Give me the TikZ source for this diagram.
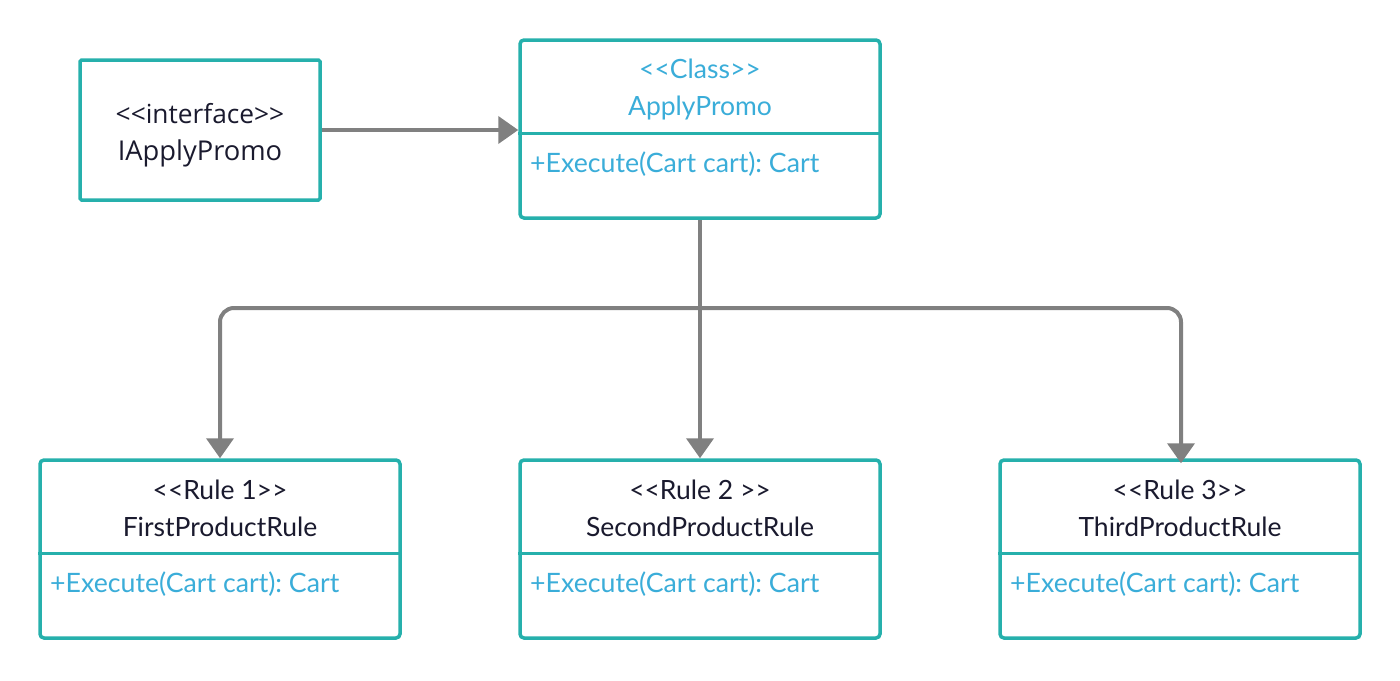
\documentclass[tikz,border=0pt]{standalone}
\usepackage{fontspec}
\newfontfamily\lato{Lato}
\newfontfamily\ifont{Open Sans}
\usetikzlibrary{arrows.meta}
\definecolor{boxteal}{HTML}{26B0AC}
\definecolor{txtblue}{HTML}{3AADD9}
\definecolor{txtdark}{HTML}{1A1A2E}
\definecolor{conngray}{HTML}{808080}
\frenchspacing
\tikzset{
  umlbox/.style={draw=boxteal, line width=3.5pt, rounded corners=4pt, fill=white, minimum width=#1, inner sep=0pt},
  divider/.style={draw=boxteal, line width=3pt},
  stereo/.style={anchor=base, inner sep=0pt, font=\lato\fontsize{26.5}{30}\selectfont},
  cname/.style={anchor=base, inner sep=0pt, font=\lato\fontsize{26.5}{30}\selectfont},
  meth/.style={anchor=base west, inner sep=0pt, text=txtblue, font=\lato\fontsize{26.7}{30}\selectfont},
  conn/.style={draw=conngray, line width=4pt, -{Triangle[length=20pt,width=27pt]}},
}
\begin{document}
\begin{tikzpicture}[x=1pt,y=-1pt]
\useasboundingbox (0,0) rectangle (1400,680);
% boxes
\node[umlbox=240pt, minimum height=140pt, rounded corners=1.5pt] (iface) at (200,130) {};
\node[umlbox=360pt, minimum height=178pt] (apply) at (700,129) {};
\node[umlbox=360pt, minimum height=178pt] (rule1) at (220,549) {};
\node[umlbox=360pt, minimum height=178pt] (rule2) at (700,549) {};
\node[umlbox=360pt, minimum height=178pt] (rule3) at (1180,549) {};
% dividers
\draw[divider] (apply.west |- 0,133) -- (apply.east |- 0,133);
\draw[divider] (rule1.west |- 0,553) -- (rule1.east |- 0,553);
\draw[divider] (rule2.west |- 0,553) -- (rule2.east |- 0,553);
\draw[divider] (rule3.west |- 0,553) -- (rule3.east |- 0,553);
% texts
\node[anchor=base, inner sep=0pt, text=txtdark, font=\ifont\fontsize{26.3}{30}\selectfont] (ifst) at (200,123) {<<interface>>};
\node[anchor=base, inner sep=0pt, text=txtdark, font=\ifont\fontsize{27.3}{30}\selectfont] (ifnm) at (200,160) {IApplyPromo};
\node[stereo, text=txtblue] (apst) at (700,78) {<<Class>>};
\node[cname, text=txtblue] (apnm) at (700,115) {ApplyPromo};
\node[meth] (apme) at (530,172) {+Execute(Cart cart): Cart};
\node[stereo, text=txtdark] (r1st) at (220,499) {<<Rule 1>>};
\node[cname, text=txtdark] (r1nm) at (220,536) {FirstProductRule};
\node[meth] (r1me) at (50,592) {+Execute(Cart cart): Cart};
\node[stereo, text=txtdark] (r2st) at (700,499) {<<Rule 2 >>};
\node[cname, text=txtdark] (r2nm) at (700,536) {SecondProductRule};
\node[meth] (r2me) at (530,592) {+Execute(Cart cart): Cart};
\node[stereo, text=txtdark] (r3st) at (1180,499) {<<Rule 3>>};
\node[cname, text=txtdark] (r3nm) at (1180,536) {ThirdProductRule};
\node[meth] (r3me) at (1010,592) {+Execute(Cart cart): Cart};
% connectors
\coordinate (junc) at (700,308);
\draw[conn] (iface.east) -- (iface.east -| apply.west);
\draw[conn] (apply.south) -- (rule2.north);
\draw[conn, rounded corners=14pt] (junc) -| (rule1.north);
\draw[conn, rounded corners=14pt, shorten >=-5pt] (junc) -| ([xshift=1pt]rule3.north);
\end{tikzpicture}
\end{document}
